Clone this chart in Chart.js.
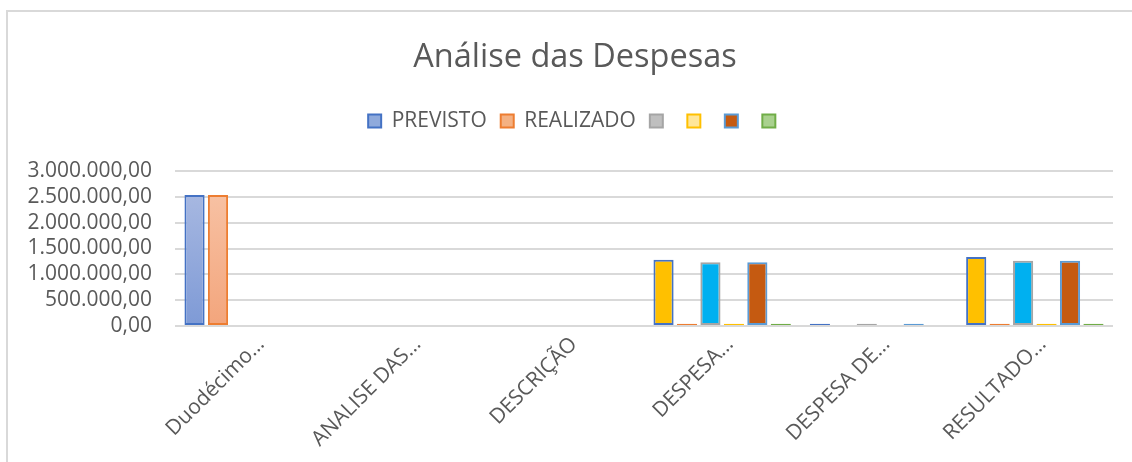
<!DOCTYPE html>
<html><head><meta charset="utf-8">
<script src="https://cdn.jsdelivr.net/npm/chart.js@4.4.1/dist/chart.umd.min.js"></script>
<style>
html,body{margin:0;padding:0;background:#fff;}
#wrap{position:relative;width:1132px;height:462px;overflow:hidden;}
#frame{position:absolute;left:6px;top:10px;width:1200px;height:500px;border-left:2px solid #d9d9d9;border-top:2px solid #d9d9d9;box-sizing:border-box;}
canvas{position:absolute;left:0;top:0;}
</style></head><body>
<div id="wrap"><div id="frame"></div><canvas id="c" width="1132" height="462"></canvas></div>
<script>
// ---- data ----
const categories = ['Duodécimo…', 'ANALISE DAS…', 'DESCRIÇÃO', 'DESPESA…', 'DESPESA DE…', 'RESULTADO…'];
const seriesNames = ['PREVISTO', 'REALIZADO', '', '', '', ''];
const previsto  = [2535000, null, null, 1280000, 45000, 1335000];
const realizado = [2535000, null, null, 45000, null, 45000];
const serie3    = [null, null, null, 1235000, 45000, 1262000];
const serie4    = [null, null, null, 45000, null, 45000];
const serie5    = [null, null, null, 1235000, 45000, 1262000];
const serie6    = [null, null, null, 45000, null, 45000];
const yTickValues = [0, 500000, 1000000, 1500000, 2000000, 2500000, 3000000];

// ---- styles ----
const FONT = "'Open Sans', sans-serif";
const TEXT = '#595959';
const seriesBorder = ['#4472c4', '#ed7d31', '#a5a5a5', '#ffc000', '#5b9bd5', '#70ad47'];
const seriesFill   = ['#8faadc', '#f4b183', '#bfbfbf', '#ffe699', '#c55a11', '#a9d18e'];
const gradStops = [['#aebde3', '#7e9ad6'], ['#f8c6aa', '#f3a57c'], null, null, null, null];
// per-point fill overrides (category index -> fill)
const pointFill = [
  {3: '#ffc000', 5: '#ffc000'},
  {},
  {3: '#00b0f0', 5: '#00b0f0'},
  {},
  {},
  {}
];

function fmt(v) {
  const neg = v < 0; v = Math.abs(v);
  const s = v.toFixed(2);
  let [ip, dp] = s.split('.');
  ip = ip.replace(/\B(?=(\d{3})+(?!\d))/g, '.');
  return (neg ? '-' : '') + ip + ',' + dp;
}

const allSeries = [previsto, realizado, serie3, serie4, serie5, serie6];
const datasets = allSeries.map((d, i) => ({
  label: seriesNames[i],
  data: d,
  borderColor: seriesBorder[i],
  borderWidth: 2,
  borderSkipped: false,
  inflateAmount: 0,
  backgroundColor: function(ctx) {
    const idx = ctx.dataIndex;
    if (pointFill[i][idx]) return pointFill[i][idx];
    if (gradStops[i] && ctx.type === 'data') {
      const area = ctx.chart.chartArea;
      if (area) {
        const g = ctx.chart.ctx.createLinearGradient(0, area.top, 0, area.bottom);
        g.addColorStop(0, gradStops[i][0]);
        g.addColorStop(1, gradStops[i][1]);
        return g;
      }
    }
    return seriesFill[i];
  },
  categoryPercentage: 0.9,
  barPercentage: 0.86
}));

new Chart(document.getElementById('c'), {
  type: 'bar',
  data: { labels: categories, datasets: datasets },
  options: {
    responsive: false,
    devicePixelRatio: 1,
    animation: false,
    layout: { padding: { left: 27, right: 19, top: 0, bottom: 0 } },
    plugins: {
      tooltip: { enabled: false },
      title: {
        display: true,
        text: 'Análise das Despesas',
        color: TEXT,
        font: { family: FONT, size: 32.5, weight: 'normal', lineHeight: 1.2 },
        padding: { top: 38, bottom: 19.5 }
      },
      legend: {
        position: 'top',
        labels: {
          color: TEXT,
          font: { family: FONT, size: 21 },
          boxWidth: 13,
          boxHeight: 13,
          padding: 14,
          generateLabels: function(chart) {
            return seriesNames.map((n, i) => ({
              text: n,
              fillStyle: seriesFill[i],
              strokeStyle: seriesBorder[i],
              lineWidth: 2,
              datasetIndex: i,
              hidden: false,
              fontColor: TEXT
            }));
          }
        },
        onClick: null
      }
    },
    scales: {
      x: {
        grid: { display: false, drawTicks: false },
        border: { display: false },
        ticks: {
          color: TEXT,
          font: { family: FONT, size: 21 },
          minRotation: 45,
          maxRotation: 45,
          autoSkip: false,
          padding: 6,
          labelOffset: 8
        },
        afterFit: function(scale) { scale.paddingLeft = 0; scale.paddingRight = 0; scale.height = 136; }
      },
      y: {
        min: 0,
        max: 3000000,
        afterBuildTicks: function(scale) { scale.ticks = yTickValues.map(v => ({ value: v })); },
        grid: { color: '#d9d9d9', lineWidth: 2, drawTicks: false },
        border: { display: false },
        ticks: {
          color: TEXT,
          font: { family: FONT, size: 21, lineHeight: 1 },
          padding: 23,
          autoSkip: false,
          callback: function(v) { return fmt(v); }
        },
        afterFit: function(scale) { scale.width = 148; }
      }
    }
  },
  plugins: [{
    id: 'headerTweaks',
    beforeInit(chart) {
      const lg = chart.legend;
      const origFit = lg.fit;
      lg.fit = function() { origFit.call(this); this.height = 74.5; };
      const origLgDraw = lg.draw;
      lg.draw = function() { const c = this.ctx; c.save(); c.translate(7, 0); origLgDraw.call(this); c.restore(); };
      const tb = chart.titleBlock;
      if (tb) {
        const origTbDraw = tb.draw;
        tb.draw = function() { const c = this.ctx; c.save(); c.translate(5, 0); origTbDraw.call(this); c.restore(); };
      }
    }
  }]
});
</script>
</body></html>
